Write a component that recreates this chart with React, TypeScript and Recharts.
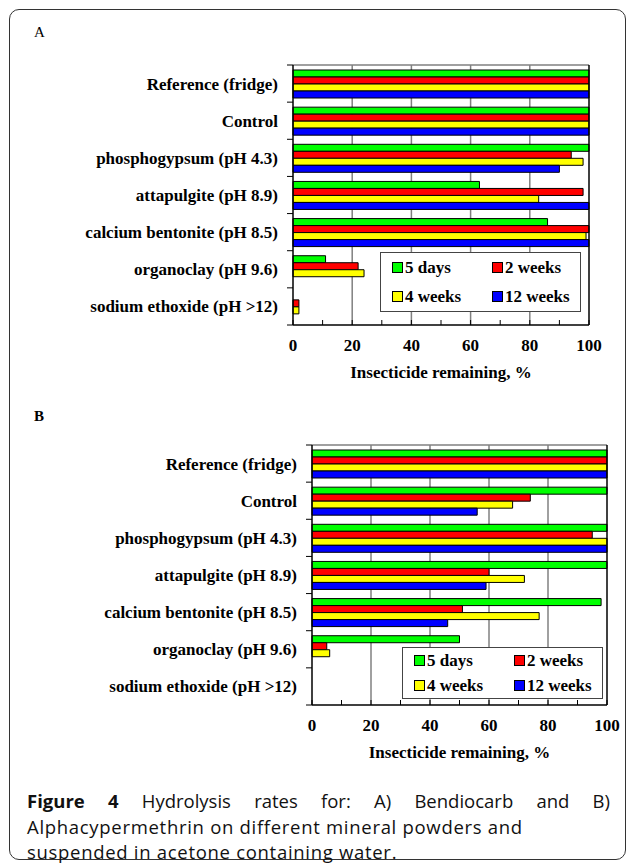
import React from 'react';
import { BarChart, Bar, XAxis, YAxis, CartesianGrid, Legend, ReferenceLine } from 'recharts';

const categories = [
  'Reference (fridge)',
  'Control',
  'phosphogypsum (pH 4.3)',
  'attapulgite (pH 8.9)',
  'calcium bentonite (pH 8.5)',
  'organoclay (pH 9.6)',
  'sodium ethoxide (pH >12)',
];
const seriesKeys = ['d5', 'w2', 'w4', 'w12'];
const seriesNames = ['5 days', '2 weeks', '4 weeks', '12 weeks'];
const seriesColors = ['#00FF00', '#FF0000', '#FFFF00', '#0000FF'];

// Panel A: Bendiocarb
const aDays5 = [100, 100, 100, 63, 86, 11, 0];
const aWeeks2 = [100, 100, 94, 98, 100, 22, 2];
const aWeeks4 = [100, 100, 98, 83, 99, 24, 2];
const aWeeks12 = [100, 100, 90, 100, 100, 0, 0];

// Panel B: Alphacypermethrin
const bDays5 = [100, 100, 100, 100, 98, 50, 0];
const bWeeks2 = [100, 74, 95, 60, 51, 5, 0];
const bWeeks4 = [100, 68, 100, 72, 77, 6, 0];
const bWeeks12 = [100, 56, 100, 59, 46, 0, 0];

const xTicks = [0, 10, 20, 30, 40, 50, 60, 70, 80, 90, 100];
const gridValues = [20, 40, 60, 80];
const xTitle = 'Insecticide remaining, %';
const captionLines = [
  'Alphacypermethrin on different mineral powders and',
  'suspended in acetone containing water.',
];

const SERIF = '"Liberation Serif", "Times New Roman", serif';
const SANS = '"Open Sans", "Noto Sans", sans-serif';

const CHART_W = 627;
const CHART_H = 400;
const M_TOP = 65;
const M_BOTTOM = 22;
const X_AXIS_H = 53;
const PLOT_H = CHART_H - M_TOP - M_BOTTOM - X_AXIS_H;
const Y_TICK_MARGIN = 15;
const X_TICK_MARGIN = 14;

function buildData(s1: number[], s2: number[], s3: number[], s4: number[]) {
  return categories.map((name, i) => ({ name, d5: s1[i], w2: s2[i], w4: s3[i], w12: s4[i] }));
}

const dataA = buildData(aDays5, aWeeks2, aWeeks4, aWeeks12);
const dataB = buildData(bDays5, bWeeks2, bWeeks4, bWeeks12);

const YTick = (props: any) => {
  const { x, y, payload } = props;
  const axisX = x + Y_TICK_MARGIN;
  const half = PLOT_H / categories.length / 2;
  const isLast = payload.value === categories[categories.length - 1];
  return (
    <g>
      <line x1={axisX - 6} x2={axisX} y1={y - half} y2={y - half} stroke="#000" strokeWidth={1} />
      {isLast && <line x1={axisX - 6} x2={axisX} y1={y + half} y2={y + half} stroke="#000" strokeWidth={1} />}
      <text x={x} y={y} dy="0.35em" textAnchor="end" fontFamily={SERIF} fontWeight="bold" fontSize={17} fill="#000">
        {payload.value}
      </text>
    </g>
  );
};

const XTick = (props: any) => {
  const { x, y, payload } = props;
  const axisY = y - X_TICK_MARGIN;
  return (
    <g>
      <line x1={x} x2={x} y1={axisY} y2={axisY - 5} stroke="#000" strokeWidth={1} />
      {payload.value % 20 === 0 && (
        <text x={x} y={y} dy="0.71em" textAnchor="middle" fontFamily={SERIF} fontWeight="bold" fontSize={17} fill="#000">
          {payload.value}
        </text>
      )}
    </g>
  );
};

const LegendBox = (props: any) => {
  const payload = (props.payload || []) as any[];
  const items = seriesNames.map((n, i) => {
    const p = payload.find((q) => q.value === n);
    return { name: n, color: p ? p.color : seriesColors[i] };
  });
  return (
    <div
      style={{
        width: '100%',
        height: '100%',
        boxSizing: 'border-box',
        border: '1.5px solid #444',
        background: '#fff',
        display: 'grid',
        gridTemplateColumns: '100px 100px',
        gridTemplateRows: '1fr 1fr',
        paddingLeft: 11,
        alignItems: 'center',
      }}
    >
      {items.map((it) => (
        <div key={it.name} style={{ display: 'flex', alignItems: 'center', fontFamily: SERIF, fontWeight: 'bold', fontSize: 17, color: '#000', lineHeight: 1 }}>
          <span style={{ display: 'inline-block', width: 9, height: 9, background: it.color, border: '1px solid #000', marginRight: 2 }} />
          <span>{it.name}</span>
        </div>
      ))}
    </div>
  );
};

function Panel({ data, yWidth, right, legend }: { data: any[]; yWidth: number; right: number; legend: { left: number; top: number; width: number; height: number } }) {
  return (
    <BarChart
      width={CHART_W}
      height={CHART_H}
      data={data}
      layout="vertical"
      margin={{ top: M_TOP, right, bottom: M_BOTTOM, left: 0 }}
      barCategoryGap="13.5%"
      barGap={0}
    >
      <CartesianGrid
        stroke="#808080"
        strokeWidth={1.5}
        verticalValues={gridValues}
        horizontalCoordinatesGenerator={({ offset }: any) => [offset.top]}
      />
      <XAxis
        type="number"
        domain={[0, 100]}
        ticks={xTicks}
        interval={0}
        height={X_AXIS_H}
        axisLine={{ stroke: '#000', strokeWidth: 1.5 }}
        tickLine={false}
        tickSize={0}
        tickMargin={X_TICK_MARGIN}
        tick={<XTick />}
        label={{ value: xTitle, position: 'insideBottom', offset: 0, style: { fontFamily: SERIF, fontWeight: 'bold', fontSize: 17, fill: '#000' } }}
      />
      <YAxis
        type="category"
        dataKey="name"
        width={yWidth}
        interval={0}
        axisLine={{ stroke: '#000', strokeWidth: 1.5 }}
        tickLine={false}
        tickSize={0}
        tickMargin={Y_TICK_MARGIN}
        tick={<YTick />}
      />
      <ReferenceLine x={100} stroke="#000" strokeWidth={1.5} />
      <Legend
        layout="horizontal"
        verticalAlign="middle"
        align="center"
        wrapperStyle={{ position: 'absolute', left: legend.left, top: legend.top, width: legend.width, height: legend.height }}
        content={<LegendBox />}
      />
      {seriesKeys.map((k, i) => (
        <Bar key={k} dataKey={k} name={seriesNames[i]} fill={seriesColors[i]} stroke="#000" strokeWidth={1} isAnimationActive={false} />
      ))}
    </BarChart>
  );
}

const capStyle: React.CSSProperties = {
  position: 'absolute',
  left: 27,
  width: 583,
  fontFamily: SANS,
  fontSize: 18.5,
  letterSpacing: 0.7,
  lineHeight: '25.5px',
  color: '#111',
  whiteSpace: 'nowrap',
};

export default function App() {
  return (
    <div style={{ position: 'absolute', left: 0, top: 0, width: 627, height: 863, background: '#fff', overflow: 'hidden' }}>
      <div
        style={{
          position: 'absolute',
          left: 9,
          top: 9,
          width: 617,
          height: 851,
          boxSizing: 'border-box',
          border: '1.5px solid #333',
          borderRadius: 10,
        }}
      />
      <div style={{ position: 'absolute', left: 34, top: 24, fontFamily: SERIF, fontSize: 15, color: '#000' }}>A</div>
      <div style={{ position: 'absolute', left: 34, top: 408, fontFamily: SERIF, fontSize: 15, fontWeight: 'bold', color: '#000' }}>B</div>
      <div style={{ position: 'absolute', left: 0, top: 0 }}>
        <Panel data={dataA} yWidth={293} right={38} legend={{ left: 380, top: 252, width: 201, height: 60 }} />
      </div>
      <div style={{ position: 'absolute', left: 0, top: 380 }}>
        <Panel data={dataB} yWidth={312} right={20} legend={{ left: 402, top: 267, width: 201, height: 52 }} />
      </div>
      <div style={{ ...capStyle, top: 788, whiteSpace: 'normal', textAlign: 'justify', textAlignLast: 'justify', letterSpacing: 0 }}>
        <span style={{ fontWeight: 'bold' }}>Figure 4</span> Hydrolysis rates for: A) Bendiocarb and B)
      </div>
      <div style={{ ...capStyle, top: 813.5 }}>{captionLines[0]}</div>
      <div style={{ ...capStyle, top: 839 }}>{captionLines[1]}</div>
    </div>
  );
}
